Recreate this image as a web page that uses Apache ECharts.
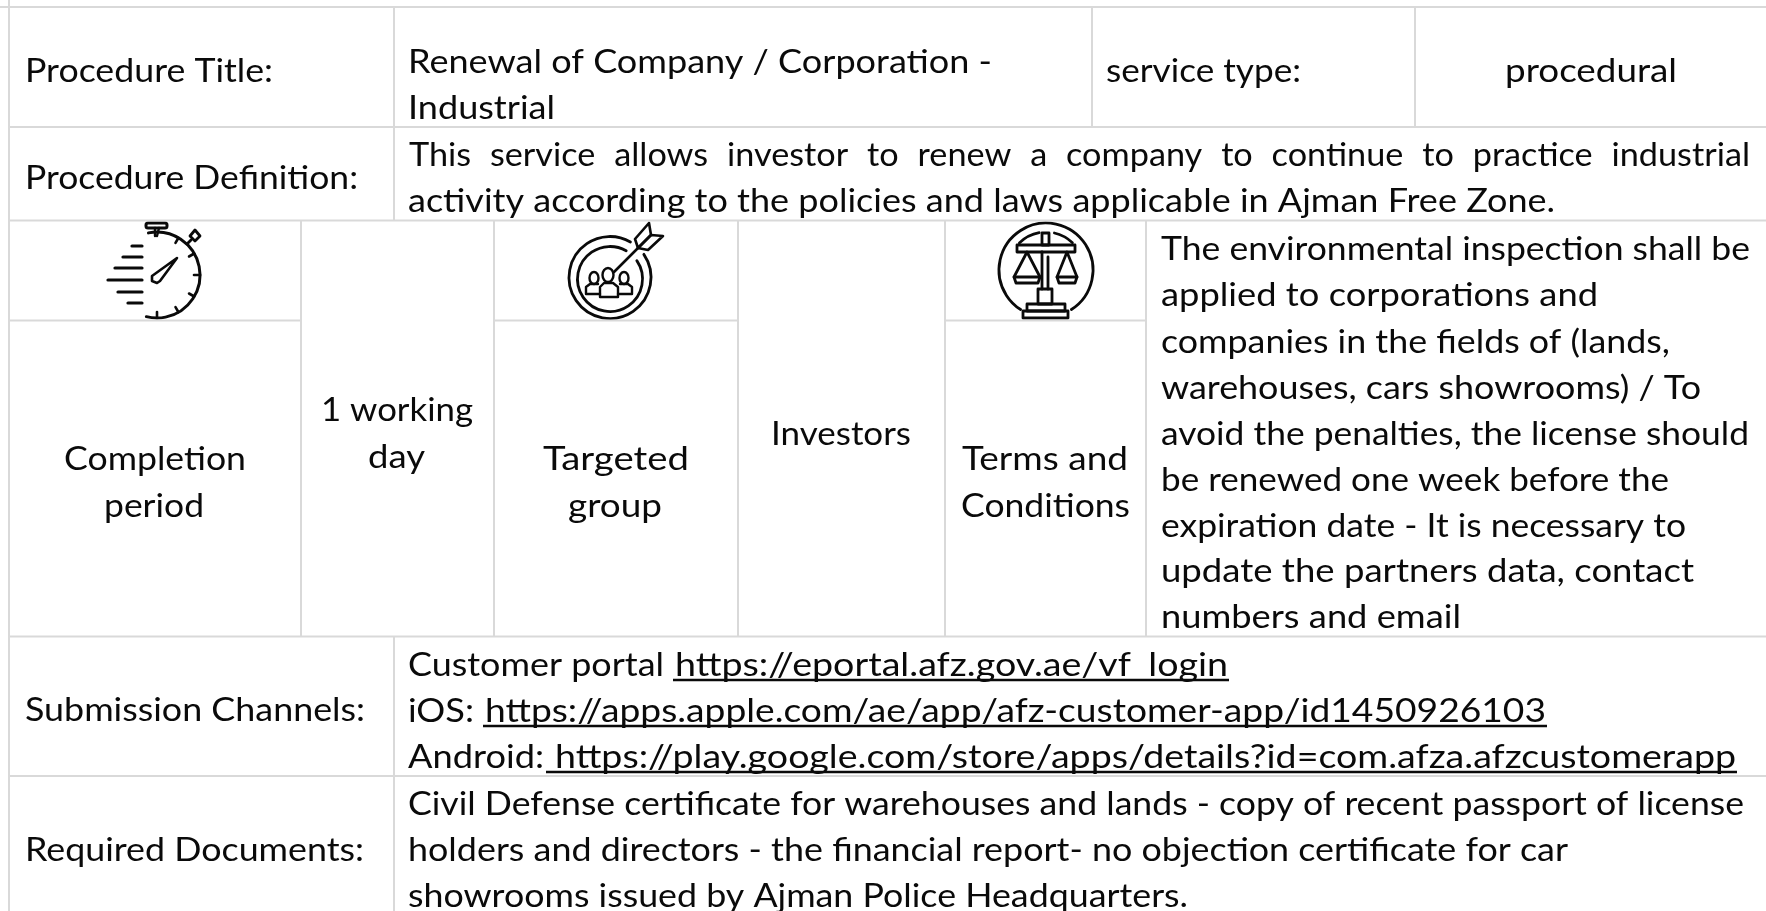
<!DOCTYPE html>
<html>
<head>
<meta charset="utf-8">
<title>Renewal of Company / Corporation - Industrial</title>
<script src="https://cdn.jsdelivr.net/npm/echarts@6/dist/echarts.min.js"></script>
<style>
html, body { margin: 0; padding: 0; background: #fff; }
#main { width: 1766px; height: 911px; }
</style>
</head>
<body>
<div id="main"></div>
<script>
// table texts
var rowLabels = ['Procedure Title:', 'Procedure Definition:', 'Submission Channels:', 'Required Documents:'];
var titleLines = ['Renewal of Company / Corporation -', 'Industrial'];
var serviceCells = ['service type:', 'procedural'];
var definitionLines = [
  'This service allows investor to renew a company to continue to practice industrial',
  'activity according to the policies and laws applicable in Ajman Free Zone.'
];
var periodLabel = ['Completion', 'period'];
var periodValue = ['1 working', 'day'];
var groupLabel = ['Targeted', 'group'];
var groupValue = ['Investors'];
var termsLabel = ['Terms and', 'Conditions'];
var termsLines = [
  'The environmental inspection shall be',
  'applied to corporations and',
  'companies in the fields of (lands,',
  'warehouses, cars showrooms) / To',
  'avoid the penalties, the license should',
  'be renewed one week before the',
  'expiration date - It is necessary to',
  'update the partners data, contact',
  'numbers and email'
];
var channelNames = ['Customer portal', 'iOS:', 'Android:'];
var channelLinks = [
  'https://eportal.afz.gov.ae/vf_login',
  'https://apps.apple.com/ae/app/afz-customer-app/id1450926103',
  'https://play.google.com/store/apps/details?id=com.afza.afzcustomerapp'
];
var documentLines = [
  'Civil Defense certificate for warehouses and lands - copy of recent passport of license',
  'holders and directors - the financial report- no objection certificate for car',
  'showrooms issued by Ajman Police Headquarters.'
];

var FONT = '32px Lato, sans-serif';
var INK = '#0a0a0a';
var GRID = '#d9d9d9';
var measure = document.createElement('canvas').getContext('2d');
measure.font = FONT;

var els = [];

// one line of text squeezed to the width it has in the reference
function put(text, x0, x1, cy) {
  var w = measure.measureText(text).width;
  els.push({
    type: 'text', x: x0, y: cy, scaleX: (x1 - x0) / w, z: 1,
    style: { text: text, font: FONT, fill: INK, textAlign: 'left', textVerticalAlign: 'middle' }
  });
}
// justified line, word by word
function putJustified(text, x0, x1, cy, wordScale) {
  var words = text.split(' ');
  var widths = words.map(function (s) { return measure.measureText(s).width * wordScale; });
  var sum = widths.reduce(function (a, b) { return a + b; }, 0);
  var gap = (x1 - x0 - sum) / (words.length - 1);
  var x = x0;
  words.forEach(function (s, i) {
    put(s, x, x + widths[i], cy);
    x += widths[i] + gap;
  });
}
function rule(x1, y1, x2, y2, color, width) {
  els.push({
    type: 'line', z: 5,
    shape: { x1: x1, y1: y1, x2: x2, y2: y2 },
    style: { stroke: color || GRID, lineWidth: width || 2 }
  });
}
function ink(type, shape, width, fill) {
  els.push({
    type: type, shape: shape, z: 2,
    style: { stroke: INK, lineWidth: width || 2.8, fill: fill || 'none', lineCap: 'round', lineJoin: 'round' }
  });
}
function stroke(points, width, closed) {
  ink(closed ? 'polygon' : 'polyline', { points: points }, width);
}

// text
put(rowLabels[0], 25, 273, 72);
put(titleLines[0], 408, 992, 63);
put(titleLines[1], 408, 555, 109);
put(serviceCells[0], 1106, 1301, 72);
put(serviceCells[1], 1505, 1677, 72);
put(rowLabels[1], 25, 358, 179);
putJustified(definitionLines[0], 409, 1750, 156, 1.07);
put(definitionLines[1], 408, 1555, 202);

put(periodLabel[0], 64, 246, 460);
put(periodLabel[1], 104, 204, 507);
put(periodValue[0], 321, 473, 411);
put(periodValue[1], 368, 425, 458);
put(groupLabel[0], 543, 689, 460);
put(groupLabel[1], 568, 662, 507);
put(groupValue[0], 771, 911, 435);
put(termsLabel[0], 962, 1128, 460);
put(termsLabel[1], 961, 1130, 507);

var termsRight = [1750, 1598, 1670, 1701, 1749, 1669, 1686, 1694, 1461];
var termsY = [250, 296, 343, 389, 435, 481, 527, 572, 618];
termsLines.forEach(function (s, i) { put(s, 1161, termsRight[i], termsY[i]); });

put(rowLabels[2], 25, 365, 711);
var channelX = [[408, 664], [408, 474], [408, 544]];
var linkX = [[675, 1228], [485, 1546], [555, 1736]];
var underlineX = [[673, 1229], [483, 1547], [546, 1737]];
var channelY = [666, 712, 758];
channelNames.forEach(function (s, i) {
  put(s, channelX[i][0], channelX[i][1], channelY[i]);
  put(channelLinks[i], linkX[i][0], linkX[i][1], channelY[i]);
  rule(underlineX[i][0], channelY[i] + 14, underlineX[i][1], channelY[i] + 14, INK, 2.5);
});

put(rowLabels[3], 25, 364, 851);
var docRight = [1744, 1568, 1188];
var docY = [805, 851, 897];
documentLines.forEach(function (s, i) { put(s, 408, docRight[i], docY[i]); });

// grid
rule(0, 7, 1766, 7);
rule(9, 127, 1766, 127);
rule(9, 220.5, 1766, 220.5);
rule(9, 636.5, 1766, 636.5);
rule(9, 776, 1766, 776);
rule(9, 0, 9, 911);
rule(394, 7, 394, 220.5);
rule(394, 636.5, 394, 911);
rule(1092, 7, 1092, 127);
rule(1415, 7, 1415, 127);
[301, 494, 738, 945, 1146].forEach(function (x) { rule(x, 220.5, x, 636.5); });
rule(9, 320.5, 301, 320.5);
rule(494, 320.5, 738, 320.5);
rule(945, 320.5, 1146, 320.5);

// stopwatch icon
ink('arc', { cx: 157, cy: 275, r: 43, startAngle: -Math.PI / 2 - 0.2, endAngle: Math.PI / 2 + 0.25, clockwise: true }, 3);
ink('rect', { x: 146, y: 223, width: 21, height: 5, r: 2 }, 3);
stroke([[155, 228], [155, 236]], 2.4);
stroke([[159, 228], [157, 236]], 2.4);
[[246, 132], [257, 123], [268, 115], [280, 108], [292, 118], [303, 128]].forEach(function (d) {
  stroke([[d[1], d[0]], [142, d[0]]], 3.2);
});
[-60, -30, 0, 30, 60, 90].forEach(function (a) {
  var t = a * Math.PI / 180;
  stroke([[157 + 37 * Math.cos(t), 275 + 37 * Math.sin(t)], [157 + 43 * Math.cos(t), 275 + 43 * Math.sin(t)]], 2.6);
});
stroke([[177, 258], [152, 276], [152, 281], [157, 283], [160, 281]], 2.6, true);
stroke([[187, 244], [191, 240]], 2.8);
stroke([[195, 230], [200, 236], [195, 241], [190, 236]], 2.8, true);

// target icon
ink('arc', { cx: 610, cy: 277.5, r: 41, startAngle: -0.6, endAngle: -1.05, clockwise: true });
ink('arc', { cx: 610, cy: 279, r: 32.5, startAngle: -0.6, endAngle: -1.05, clockwise: true });
stroke([[614, 272], [638, 248]], 2.6);
stroke([[635, 239], [649, 223], [651, 235], [638, 248]], 2.6, true);
stroke([[638, 248], [651, 235], [663, 236], [648, 250]], 2.6, true);
ink('ellipse', { cx: 608, cy: 275, rx: 5.5, ry: 7 }, 2.4);
ink('ellipse', { cx: 594, cy: 278, rx: 4.5, ry: 6 }, 2.4);
ink('ellipse', { cx: 624, cy: 278, rx: 4.5, ry: 6 }, 2.4);
stroke([[600, 297], [600, 287], [604, 283], [613, 283], [618, 287], [618, 297]], 2.4, true);
stroke([[600, 294], [586, 294], [586, 287], [590, 284], [598, 284]], 2.4);
stroke([[618, 294], [632, 294], [632, 287], [628, 284], [620, 284]], 2.4);

// scales icon
ink('arc', { cx: 1046, cy: 270, r: 47, startAngle: 1.0, endAngle: Math.PI - 1.0, clockwise: false });
ink('arc', { cx: 1046, cy: 270, r: 38, startAngle: -2.35, endAngle: -1.75, clockwise: true }, 2.6);
ink('arc', { cx: 1046, cy: 270, r: 38, startAngle: -1.35, endAngle: -0.8, clockwise: true }, 2.6);
ink('rect', { x: 1017, y: 245, width: 58, height: 7 });
ink('rect', { x: 1042, y: 233, width: 7, height: 12 });
stroke([[1042, 252], [1042, 289]]);
stroke([[1048, 257], [1048, 289]]);
ink('rect', { x: 1038, y: 289, width: 14, height: 15 });
ink('rect', { x: 1027, y: 304, width: 38, height: 7 });
ink('rect', { x: 1023, y: 311, width: 45, height: 7 });
stroke([[1014, 277], [1027, 252], [1040, 277]]);
stroke([[1014, 277], [1040, 277], [1038, 283], [1016, 283]], 2.8, true);
stroke([[1057, 277], [1067, 252], [1077, 277]]);
stroke([[1057, 277], [1077, 277], [1075, 283], [1059, 283]], 2.8, true);

var chart = echarts.init(document.getElementById('main'));
chart.setOption({
  backgroundColor: '#fff',
  animation: false,
  graphic: { elements: els }
});
</script>
</body>
</html>
